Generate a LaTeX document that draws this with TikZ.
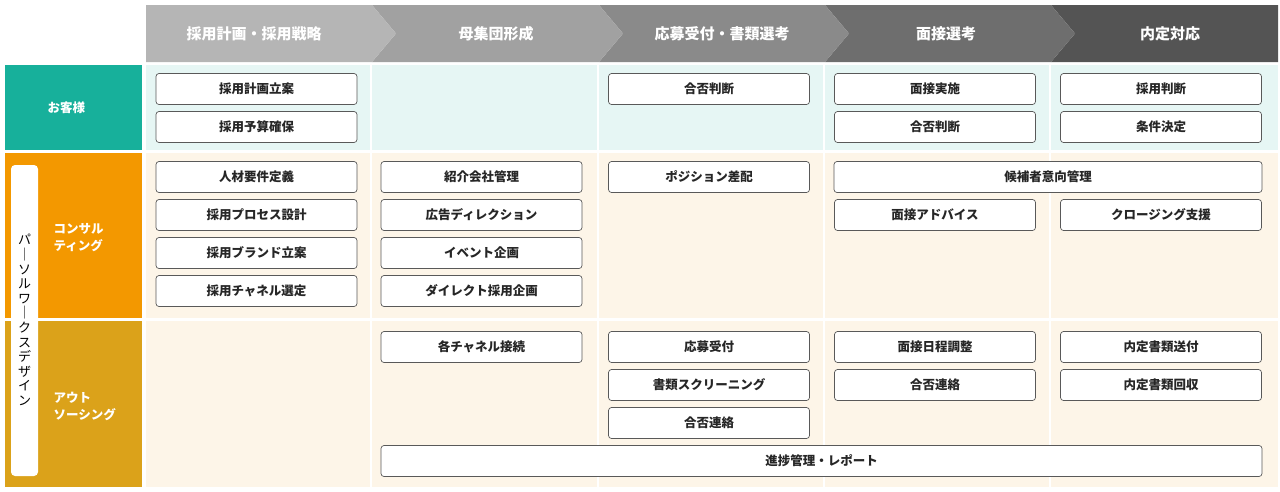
\documentclass[tikz,border=0pt]{standalone}
\usepackage{fontspec}
\setmainfont{Noto Sans CJK JP}
\begin{document}
\begin{tikzpicture}[x=1pt,y=-1pt,
 box/.style={draw=black!65,fill=white,rounded corners=3pt,line width=0.7pt,minimum width=201pt,minimum height=31pt,inner sep=0pt,font=\fontsize{12.5}{14}\selectfont\bfseries\color{black!85}},
 hd/.style={text=white,font=\fontsize{15}{17}\selectfont\bfseries},
 lab/.style={text=white,font=\fontsize{12.5}{17}\selectfont\bfseries,align=left,anchor=west}]
\useasboundingbox (0,0) rectangle (1280,491);
\definecolor{teal}{HTML}{17B09B}\definecolor{org}{HTML}{F39800}\definecolor{gold}{HTML}{DBA21A}
\definecolor{lteal}{HTML}{E6F6F4}\definecolor{lcr}{HTML}{FDF5E8}
% backgrounds
\foreach \a/\b in {146/370,372/597,599/823,825/1049,1051/1278}{
 \fill[lteal] (\a,65) rectangle (\b,150);
 \fill[lcr] (\a,153) rectangle (\b,318);
 \fill[lcr] (\a,321) rectangle (\b,487);}
\fill[teal] (5,65) rectangle (142,150);
\fill[org] (5,153) rectangle (142,318);
\fill[gold] (5,321) rectangle (142,487);
% header chevrons
\fill[black!67] (1051,5) -- (1278,5) -- (1278,62) -- (1051,62) -- (1075,33.5) -- cycle;
\fill[black!57] (825,5) -- (1051,5) -- (1075,33.5) -- (1051,62) -- (825,62) -- (849,33.5) -- cycle;
\fill[black!46] (599,5) -- (825,5) -- (849,33.5) -- (825,62) -- (599,62) -- (623,33.5) -- cycle;
\fill[black!37] (372,5) -- (599,5) -- (623,33.5) -- (599,62) -- (372,62) -- (396,33.5) -- cycle;
\fill[black!29] (146,5) -- (372,5) -- (396,33.5) -- (372,62) -- (146,62) -- cycle;
\node[hd] (h1) at (254,33.5) {採用計画・採用戦略};
\node[hd] (h2) at (496,33.5) {母集団形成};
\node[hd] (h3) at (722,33.5) {応募受付・書類選考};
\node[hd] (h4) at (946,33.5) {面接選考};
\node[hd] (h5) at (1170,33.5) {内定対応};
% labels
\node[lab] (l1) at (44,108) {お客様};
\node[lab] (l2) at (50,238) {コンサル\\ティング};
\node[lab] (l3) at (50,406) {アウト\\ソーシング};
\fill[white,rounded corners=4pt] (11,165) rectangle (38,476);
\node[font=\fontsize{13}{14.6}\selectfont,align=center,inner sep=0pt] (v) at (24.5,320) {パ\\｜\\ソ\\ル\\ワ\\｜\\ク\\ス\\デ\\ザ\\イ\\ン};
% boxes
\node[box] (a1) at (256.5,89) {採用計画立案};
\node[box] (a2) at (256.5,127) {採用予算確保};
\node[box] (a3) at (709,89) {合否判断};
\node[box] (a4) at (935,89) {面接実施};
\node[box] (a5) at (935,127) {合否判断};
\node[box] (a6) at (1161,89) {採用判断};
\node[box] (a7) at (1161,127) {条件決定};
\node[box] (b1) at (256.5,177) {人材要件定義};
\node[box] (b2) at (256.5,215) {採用プロセス設計};
\node[box] (b3) at (256.5,253) {採用ブランド立案};
\node[box] (b4) at (256.5,291) {採用チャネル選定};
\node[box] (b5) at (481.5,177) {紹介会社管理};
\node[box] (b6) at (481.5,215) {広告ディレクション};
\node[box] (b7) at (481.5,253) {イベント企画};
\node[box] (b8) at (481.5,291) {ダイレクト採用企画};
\node[box] (b9) at (709,177) {ポジション差配};
\node[box,minimum width=428pt] (b10) at (1048,177) {候補者意向管理};
\node[box] (b11) at (935,215) {面接アドバイス};
\node[box] (b12) at (1161,215) {クロージング支援};
\node[box] (c1) at (481.5,347) {各チャネル接続};
\node[box] (c2) at (709,347) {応募受付};
\node[box] (c3) at (709,385) {書類スクリーニング};
\node[box] (c4) at (709,423) {合否連絡};
\node[box] (c5) at (935,347) {面接日程調整};
\node[box] (c6) at (935,385) {合否連絡};
\node[box] (c7) at (1161,347) {内定書類送付};
\node[box] (c8) at (1161,385) {内定書類回収};
\node[box,minimum width=881pt] (c9) at (821.5,461) {進捗管理・レポート};
\end{tikzpicture}
\end{document}
